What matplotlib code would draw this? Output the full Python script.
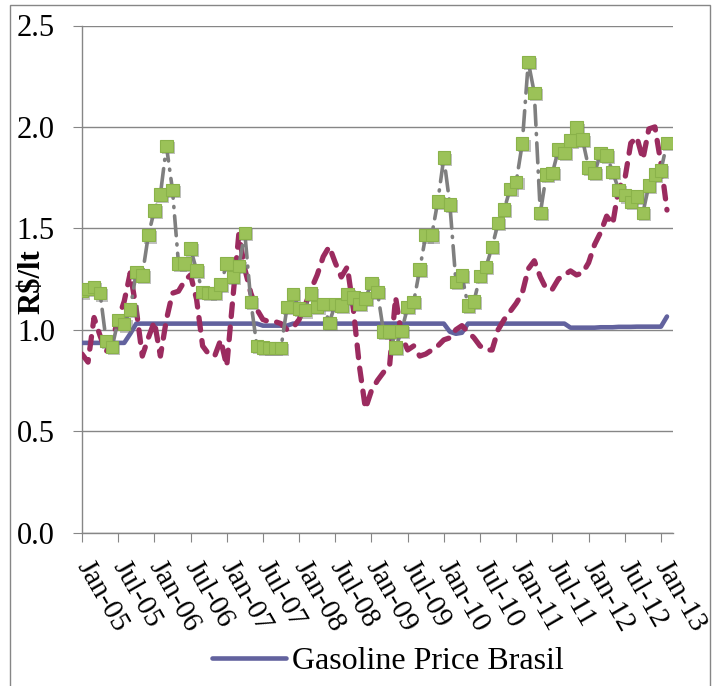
import matplotlib
matplotlib.use("Agg")
import matplotlib.pyplot as plt
import matplotlib.patheffects as pe
from matplotlib.patches import Rectangle
import numpy as np

# monthly data, Jan-05 .. Feb-13
tick_labels = ["Jan-05", "Jul-05", "Jan-06", "Jul-06", "Jan-07", "Jul-07",
               "Jan-08", "Jul-08", "Jan-09", "Jul-09", "Jan-10", "Jul-10",
               "Jan-11", "Jul-11", "Jan-12", "Jul-12", "Jan-13"]

gasoline = ([0.935] * 8 + [0.98] + [1.03] * 21 + [1.02] * 5 + [1.03] * 26
            + [0.99, 0.98, 0.985] + [1.03] * 17
            + [1.01, 1.01, 1.01, 1.01, 1.01, 1.012, 1.012, 1.012, 1.014, 1.014,
               1.014, 1.015, 1.015, 1.015, 1.015, 1.015, 1.065])

maroon = [0.88, 0.84, 1.06, 0.97, 0.89, 0.95, 1.05, 1.14, 1.28, 1.10,
          0.87, 0.96, 1.04, 0.87, 1.05, 1.18, 1.19, 1.24, 1.27, 1.15,
          0.92, 0.88, 0.87, 0.95, 0.82, 1.15, 1.47, 1.30, 1.18, 1.10,
          1.05, 1.04, 1.04, 1.03, 1.00, 1.01, 1.05, 1.12, 1.20, 1.27,
          1.36, 1.41, 1.33, 1.26, 1.31, 1.10, 0.82, 0.61, 0.70, 0.75,
          0.79, 0.82, 1.16, 0.97, 0.90, 0.92, 0.87, 0.88, 0.90, 0.92,
          0.95, 0.96, 1.00, 1.02, 0.99, 0.96, 0.92, 0.90, 0.90, 1.00,
          1.05, 1.09, 1.13, 1.18, 1.30, 1.34, 1.26, 1.20, 1.20, 1.25,
          1.27, 1.29, 1.27, 1.28, 1.33, 1.42, 1.48, 1.56, 1.52, 1.70,
          1.74, 1.92, 1.95, 1.84, 1.99, 2.00, 1.82, 1.59]

green = [1.19, 1.20, 1.21, 1.18, 0.945, 0.915, 1.047, 1.027, 1.10, 1.285,
         1.268, 1.466, 1.589, 1.667, 1.905, 1.69, 1.326, 1.326, 1.40, 1.293,
         1.186, 1.181, 1.181, 1.223, 1.326, 1.26, 1.314, 1.477, 1.137, 0.919,
         0.913, 0.91, 0.91, 0.91, 1.112, 1.175, 1.104, 1.096, 1.178, 1.112,
         1.126, 1.034, 1.126, 1.12, 1.175, 1.16, 1.126, 1.154, 1.231, 1.186,
         0.99, 0.99, 0.912, 0.994, 1.112, 1.137, 1.297, 1.466, 1.466, 1.633,
         1.848, 1.617, 1.236, 1.268, 1.12, 1.14, 1.264, 1.31, 1.408, 1.526,
         1.592, 1.695, 1.728, 1.917, 2.32, 2.168, 1.575, 1.766, 1.772, 1.888,
         1.871, 1.933, 1.996, 1.937, 1.80, 1.772, 1.871, 1.86, 1.777, 1.69,
         1.663, 1.63, 1.658, 1.575, 1.712, 1.766, 1.786, 1.92]

months = np.arange(len(green))

plt.rcParams['font.family'] = ['Liberation Serif', 'DejaVu Serif']

fig = plt.figure(figsize=(7.15, 6.86), dpi=100)
ax = fig.add_axes([82 / 715, 1 - 532.5 / 686, 591 / 715, 507 / 686])

grid_col = '#868686'

ax.plot(months, gasoline, color='#62629e', lw=3.3, solid_capstyle='round',
        label='Gasoline Price Brasil', zorder=3)
ax.plot(months, maroon, color='#9b2b5f', lw=3.8, linestyle=(0, (2.4, 2.0)),
        dash_capstyle='round', zorder=4)
ax.plot(months, green, color='#7f7f7f', lw=2.6, linestyle=(0, (5.5, 2.3, 0.3, 2.3)),
        dash_capstyle='round', zorder=5)
ax.plot(months, green, linestyle='none', marker='s', ms=9,
        mfc='#9bc258', mec='#8ab24a', mew=0.8, zorder=6,
        path_effects=[pe.SimplePatchShadow(offset=(1.5, -1.5), shadow_rgbFace='#777777', alpha=0.45),
                      pe.Normal()])

ax.set_xlim(0, 98)
ax.set_ylim(0, 2.5)
ax.set_yticks(np.arange(0, 2.51, 0.5))
ax.set_yticklabels(["%.1f" % v for v in np.arange(0, 2.51, 0.5)], fontsize=22)
ax.set_xticks(np.arange(0, 97, 6))
ax.set_xticklabels(tick_labels, fontsize=21, rotation=-60, ha='left', va='center',
                   rotation_mode='anchor')

ax.yaxis.grid(True, color=grid_col, lw=1)
ax.set_axisbelow(True)
for s in ['top', 'right']:
    ax.spines[s].set_visible(False)
for s in ['left', 'bottom']:
    ax.spines[s].set_color(grid_col)
    ax.spines[s].set_linewidth(1)
ax.tick_params(axis='y', length=6.5, color=grid_col, pad=13)
ax.tick_params(axis='x', length=6.5, color=grid_col, pad=15)

ax.set_ylabel("R$/lt", fontsize=22, fontweight='bold')
ax.yaxis.set_label_coords(-36 / 591, 0.494)

fig.legend(handles=[ax.lines[0]], loc='center', bbox_to_anchor=(388 / 715, 1 - 661 / 686),
           frameon=False, fontsize=23, handlelength=2.3, handletextpad=0.2)

# chart area border
fig.add_artist(Rectangle((10 / 715, -0.05), 700 / 715, 1.05 - 5 / 686, transform=fig.transFigure,
                         fill=False, edgecolor=grid_col, lw=1))

fig.savefig("out.png", dpi=100)
